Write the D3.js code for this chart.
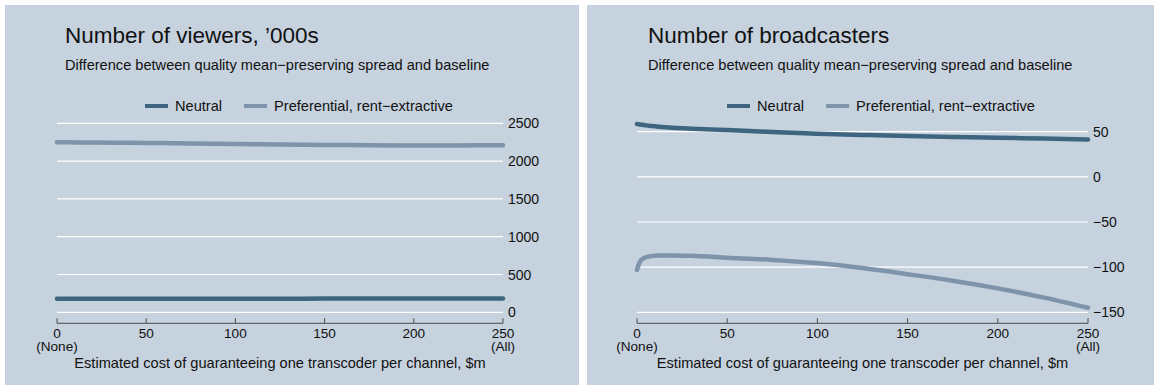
<!DOCTYPE html>
<html>
<head>
<meta charset="utf-8">
<script src="https://cdn.jsdelivr.net/npm/d3@7"></script>
<style>
  html, body { margin: 0; padding: 0; background: #ffffff; }
  svg { display: block; font-family: "Liberation Sans", Arial, Helvetica, sans-serif; }
</style>
</head>
<body>
<svg id="chart" width="1154" height="385"></svg>
<script>
// Estimated cost of guaranteeing one transcoder per channel ($m)
const costs = [0, 1, 2, 3, 5, 8, 12, 20, 30, 50, 75, 100, 125, 150, 175, 200, 225, 250];

// Number of viewers ('000s): spread minus baseline
const viewersNeutral      = [178, 178, 178, 178, 178, 178, 178, 178.5, 178.5, 179, 179.5, 180, 180.5, 181, 181.5, 182, 182.5, 183];
const viewersPreferential = [2250, 2250, 2250, 2249, 2249, 2248, 2247, 2246, 2244, 2240, 2233, 2226, 2220, 2214, 2210, 2207, 2208, 2211];

// Number of broadcasters: spread minus baseline
const broadcastersNeutral      = [58.5, 58.2, 57.9, 57.6, 57.0, 56.3, 55.5, 54.3, 53.3, 51.8, 49.6, 47.8, 46.4, 45.2, 44.2, 43.3, 42.4, 41.5];
const broadcastersPreferential = [-103, -97, -93, -91, -89, -87.8, -87.2, -87, -87.5, -89.5, -92, -95.5, -101, -107.8, -115, -123.5, -133.5, -145];

const xTicks = [0, 50, 100, 150, 200, 250];
const xTickNotes = { 0: "(None)", 250: "(All)" };
const viewersTicks = [0, 500, 1000, 1500, 2000, 2500];
const broadcastersTicks = [-150, -100, -50, 0, 50];

const seriesNames = ["Neutral", "Preferential, rent\u2212extractive"];
const seriesColors = ["#3e6580", "#7d94ab"];

const subtitle = "Difference between quality mean\u2212preserving spread and baseline";
const xTitle = "Estimated cost of guaranteeing one transcoder per channel, $m";

const svg = d3.select("#chart");
const fmt = d3.format("");

function drawPanel(opt) {
  const g = svg.append("g").attr("transform", `translate(${opt.left},0)`);
  const panelW = 574;

  g.append("rect")
    .attr("x", 0).attr("y", 5)
    .attr("width", panelW).attr("height", 390)
    .attr("fill", "#c6d2de");

  const x = d3.scaleLinear().domain([0, 250]).range(opt.xRange);
  const y = d3.scaleLinear().domain(opt.yDomain).range([312.3, opt.yTop]);

  // titles
  g.append("text").attr("x", opt.titleX).attr("y", 43)
    .attr("font-size", 22.5).attr("fill", "#111").text(opt.title);
  g.append("text").attr("x", opt.titleX).attr("y", 69.5)
    .attr("font-size", 14.6).attr("fill", "#111").text(subtitle);

  // legend
  const leg = g.append("g").attr("transform", "translate(140,106)");
  let cx = 0;
  seriesNames.forEach((name, i) => {
    const item = leg.append("g").attr("transform", `translate(${cx},0)`);
    item.append("line").attr("x1", 0).attr("x2", 23).attr("y1", 0).attr("y2", 0)
      .attr("stroke", seriesColors[i]).attr("stroke-width", 4);
    const t = item.append("text").attr("x", 30).attr("y", 5.2)
      .attr("font-size", 14.6).attr("fill", "#111").text(name);
    cx += 30 + t.node().getComputedTextLength() + 22;
  });

  // gridlines and right-hand y labels
  const gy = g.append("g");
  gy.selectAll("line").data(opt.yTicks).join("line")
    .attr("x1", x(0)).attr("x2", x(250))
    .attr("y1", d => y(d)).attr("y2", d => y(d))
    .attr("stroke", "#ffffff").attr("stroke-width", 1.2);
  gy.selectAll("text").data(opt.yTicks).join("text")
    .attr("x", x(250) + 5).attr("y", d => y(d)).attr("dy", "0.36em")
    .attr("font-size", 14).attr("fill", "#111").text(d => fmt(d));

  // x axis
  const ax = g.append("g").attr("transform", "translate(0,323.3)");
  ax.append("line").attr("x1", x(0)).attr("x2", x(250))
    .attr("stroke", "#4a4a4a").attr("stroke-width", 1);
  ax.selectAll("line.tick").data(xTicks).join("line").attr("class", "tick")
    .attr("x1", d => x(d)).attr("x2", d => x(d)).attr("y1", 0).attr("y2", -5)
    .attr("stroke", "#4a4a4a").attr("stroke-width", 1);

  // tick labels: value, plus a second line for the end points
  const labs = ax.selectAll("text.lab").data(xTicks).join("text").attr("class", "lab")
    .attr("text-anchor", "middle").attr("font-size", 13.6).attr("fill", "#111");
  labs.append("tspan").attr("x", d => x(d)).attr("y", 14.5).text(d => fmt(d));
  labs.filter(d => xTickNotes[d]).append("tspan")
    .attr("x", d => x(d)).attr("dy", 13.6).text(d => xTickNotes[d]);

  g.append("text").attr("x", (opt.xRange[0] + opt.xRange[1]) / 2).attr("y", 367.5)
    .attr("text-anchor", "middle")
    .attr("font-size", 14.6).attr("fill", "#111").text(xTitle);

  // series lines
  const line = d3.line().x((d, i) => x(costs[i])).y(d => y(d)).curve(d3.curveMonotoneX);
  opt.series.forEach((vals, i) => {
    g.append("path").datum(vals)
      .attr("d", line)
      .attr("fill", "none")
      .attr("stroke", seriesColors[i])
      .attr("stroke-width", 4.5)
      .attr("stroke-linecap", "round")
      .attr("stroke-linejoin", "round");
  });
}

drawPanel({
  left: 5,
  title: "Number of viewers, \u2019000s",
  titleX: 60,
  xRange: [52, 498],
  yDomain: [0, 2500],
  yTop: 123.3,
  yTicks: viewersTicks,
  series: [viewersNeutral, viewersPreferential]
});

drawPanel({
  left: 587,
  title: "Number of broadcasters",
  titleX: 61,
  xRange: [50, 501],
  yDomain: [-150, 50],
  yTop: 131.7,
  yTicks: broadcastersTicks,
  series: [broadcastersNeutral, broadcastersPreferential]
});
</script>
</body>
</html>
